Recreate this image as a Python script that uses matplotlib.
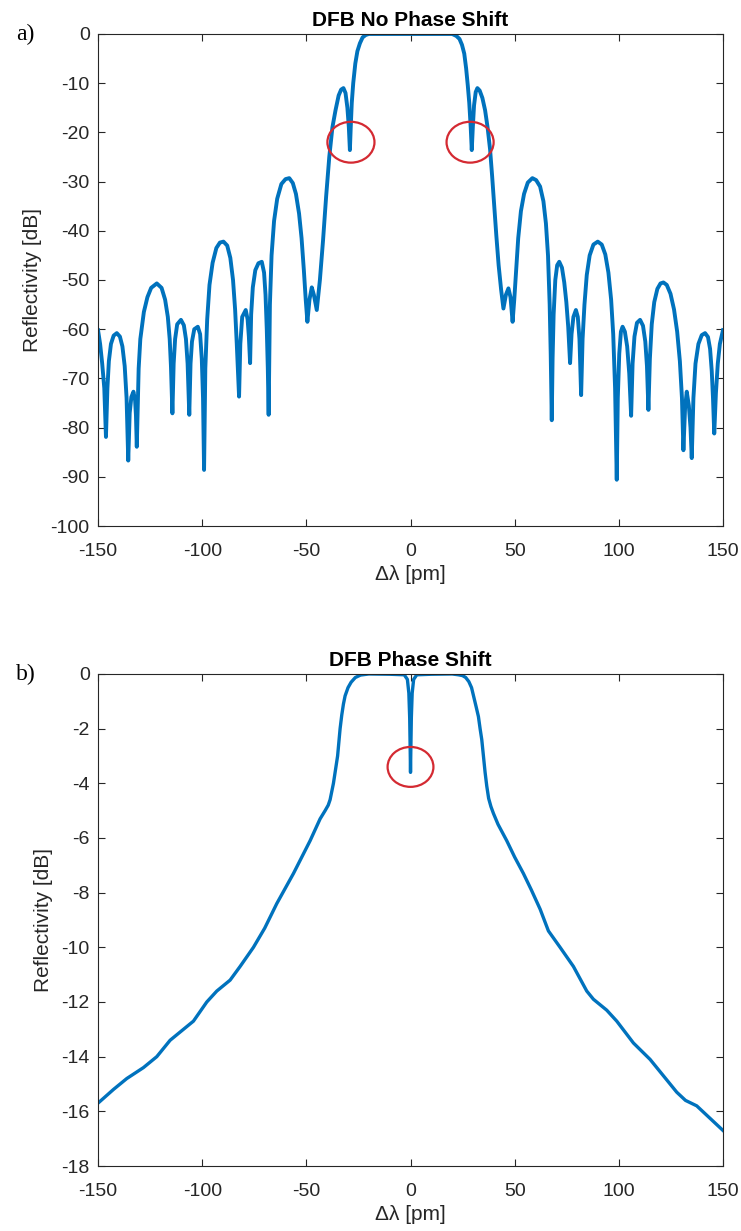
import matplotlib.pyplot as plt
from matplotlib.patches import Ellipse
import numpy as np

# a) DFB without phase shift, traced points (delta lambda [pm], reflectivity [dB])
x_nops = [-150, -149, -148, -147, -146.2,
          -145.5, -144.8, -143.8, -142.5, -141, -139.5, -138.3, -137.2, -136.3, -135.5,
          -134.8, -134, -133, -132.2, -131.8, -131.4,
          -130.5, -129.7, -128, -126.3, -124.5, -121.8, -119.5, -117.8, -116.5, -115.6, -115, -114.3,
          -113.7, -113, -112, -110.2, -108.8, -107.8, -107, -106.2,
          -105.6, -104.9, -103.8, -102.1, -101, -100.2, -99.6, -99.1,
          -98.5, -97.6, -96.5, -95, -93.2, -91.5, -89.8, -88, -86.5, -85.2, -84.2, -83.4, -82.3,
          -81.7, -80.8, -79.1, -78.2, -77.6, -77,
          -76.5, -75.7, -74.5, -73, -71.4, -70.3, -69.6, -69, -68.5, -68.1,
          -67.5, -66.7, -65.5, -64, -62, -60, -58.2, -56.5, -55, -53.5, -52.3, -51.2, -50.3, -49.5,
          -48.5, -47.4, -46.4, -45,
          -43.5, -42, -40.5, -39, -37.5, -36, -34.5, -33.3, -32.2, -31.2, -30.3, -29.6, -29.1,
          -28.7, -28.2, -27.5, -26.5, -25.5, -24.3, -23, -21.5, -20, -10, 0, 10, 20,
          20.5, 22, 23.5, 24.7, 25.8, 26.7, 27.5, 28.2, 28.9, 29.4,
          29.9, 30.5, 31.3, 32.1, 33.2, 34.5, 35.8, 37, 38.2, 39.2, 40.2, 41.2, 42.3, 43.5, 44.6,
          45.8, 47, 48, 49,
          49.8, 50.7, 51.7, 53, 54.5, 56.3, 58.5, 60.3, 62.2, 63.8, 65, 66, 66.8, 67.3, 67.8,
          68.2, 68.7, 69.5, 70.4, 71.4, 72.7, 73.8, 74.8, 75.7, 76.6,
          77.3, 78.2, 79.4, 80.3, 81.1, 81.9,
          82.6, 83.5, 84.6, 86, 87.8, 89.9, 91.8, 93.5, 95, 96.3, 97.3, 98.2, 99,
          99.5, 100.2, 101, 101.8, 102.9, 104, 105, 105.9,
          106.6, 107.5, 108.7, 110.2, 111.6, 112.7, 113.5, 114.2,
          114.9, 115.8, 117, 118.5, 120, 121.4, 123, 124.8, 126.5, 128, 129.3, 130.3, 131,
          131.8, 132.6, 133.6, 134.4, 135,
          135.8, 136.8, 138.2, 139.8, 141.4, 142.8, 143.8, 144.6, 145.2, 145.8,
          146.6, 147.5, 148.5, 150]
r_nops = [-60.2, -63, -67, -72, -81.9,
          -72, -66.5, -63, -61.3, -60.8, -61.5, -63.5, -67.5, -74, -86.7,
          -77, -73.8, -72.7, -74.5, -77.5, -83.9,
          -68, -62, -56.5, -53.5, -51.6, -50.7, -51.6, -54, -57.5, -62, -67.5, -77.1,
          -67, -62, -59, -58.1, -59.2, -62, -67, -77.4,
          -67, -62.5, -60, -59.5, -61, -66, -74, -88.6,
          -68, -58, -51, -46.5, -43.5, -42.4, -42.2, -43, -45.5, -50, -56, -63, -73.7,
          -63, -57.5, -56.1, -58, -61.5, -66.9,
          -57, -51.5, -48, -46.6, -46.3, -48.5, -53, -60, -68, -77.4,
          -55, -45, -38, -33.5, -30.5, -29.5, -29.3, -30.3, -32.5, -36.5, -41.5, -48, -54, -58.5,
          -54, -51.5, -53, -56.1,
          -50, -42, -33, -25, -19, -15.5, -12.5, -11.3, -11, -12, -15, -19, -23.6,
          -19, -14, -10, -6, -3.5, -1.9, -0.7, -0.2, 0, 0, 0, 0, 0,
          -0.1, -0.4, -1, -2.2, -4, -7, -10.5, -14, -19, -23.6,
          -19, -14.5, -11.8, -11, -11.5, -13, -15.5, -19, -23.5, -29, -35, -41, -47, -52, -55.8,
          -53, -51.7, -53.5, -58.5,
          -54, -48, -41.5, -36, -32.5, -30.2, -29.3, -29.7, -31, -34, -38.5, -45, -55, -65, -78.5,
          -66, -57, -50, -47, -46.3, -47.5, -50.5, -54.5, -59.5, -66.9,
          -61, -57.5, -56.1, -57.5, -62, -73.4,
          -62, -55, -49, -45, -42.8, -42.2, -42.8, -44.8, -48.5, -54, -61, -72, -90.6,
          -74, -65, -60.5, -59.5, -60.5, -63.5, -69, -77.6,
          -67, -61.5, -58.7, -58.1, -59.3, -62.5, -67.5, -76.4,
          -66, -59, -54.5, -51.8, -50.7, -50.5, -51, -52.8, -56, -60.5, -66.5, -74, -84.6,
          -76, -72.7, -75.5, -80, -86.2,
          -74, -67, -63, -61.2, -60.8, -61.6, -64, -68.5, -74, -81.2,
          -73, -67, -63, -60.2]

# b) DFB with phase shift
x_ps = [-150, -142.6, -136.2, -128.2, -121.8, -115.4, -109, -104.2, -97.8, -93, -86.6,
        -81.8, -75.4, -70, -64.2, -56.2, -48.2, -43.4, -41, -39.5, -38.6, -37, -36, -35,
        -34.4, -33.8, -33, -32.2, -31.4, -30, -28.5, -26.5, -24, -20, -10, -3,
        -1.5, -0.8, -0.4, -0.15, 0, 0.15, 0.4, 0.8, 1.5,
        3, 10, 20, 23, 25, 26.5, 28, 29.3, 30.4, 31.5, 32.6, 33.4, 34.2, 35, 35.8, 36.6,
        37.5, 38.6, 39.8, 42, 46.2, 50, 54.2, 58, 62.2, 66.2,
        71.8, 78.2, 84.6, 87.8, 94.2, 99, 103, 107, 111, 115, 121.4, 127.8, 132, 137.4, 143, 150]
r_ps = [-15.7, -15.2, -14.8, -14.4, -14.0, -13.4, -13.0, -12.7, -12.0, -11.6, -11.2,
        -10.7, -10.0, -9.3, -8.4, -7.3, -6.1, -5.3, -5.0, -4.8, -4.6, -4.0, -3.5, -3.0,
        -2.5, -2.0, -1.5, -1.1, -0.8, -0.5, -0.3, -0.13, -0.04, 0, -0.01, -0.03,
        -0.2, -0.7, -1.6, -2.8, -3.6, -2.8, -1.6, -0.7, -0.2,
        -0.03, -0.01, 0, -0.03, -0.06, -0.13, -0.28, -0.5, -0.85, -1.2, -1.56, -2.0, -2.4, -3.0, -3.6, -4.1,
        -4.55, -4.85, -5.1, -5.5, -6.1, -6.7, -7.3, -7.9, -8.6, -9.4,
        -10.0, -10.7, -11.6, -11.9, -12.3, -12.7, -13.1, -13.5, -13.8, -14.1, -14.7, -15.3, -15.6, -15.8, -16.2, -16.7]

# marked features (centre x, centre y, width, height)
marks_a = [(-28.6, -22, 22.6, 8.3), (28.6, -22, 22.6, 8.3)]
marks_b = [(0, -3.4, 22, 1.46)]

blue = '#0072BD'
dark = '#262626'
plt.rcParams['font.family'] = ['Liberation Sans', 'DejaVu Sans']
plt.rcParams['axes.unicode_minus'] = False

fig = plt.figure(figsize=(7.41, 12.31), dpi=100)
ax1 = fig.add_axes([0.1323, 0.5727, 0.8434, 0.3997])
ax2 = fig.add_axes([0.1323, 0.0528, 0.8434, 0.3997])

panels = [
    (ax1, x_nops, r_nops, 'DFB No Phase Shift', (-100, 0), np.arange(-100, 1, 10), marks_a, 2.8, 'a)'),
    (ax2, x_ps, r_ps, 'DFB Phase Shift', (-18, 0), np.arange(-18, 1, 2), marks_b, 2.4, 'b)'),
]

for ax, x, r, title, ylim, yticks, marks, lw, tag in panels:
    ax.plot(x, r, color=blue, lw=lw, solid_joinstyle='round')
    for cx, cy, w, h in marks:
        ax.add_patch(Ellipse((cx, cy), w, h, fill=False, edgecolor='#d42a32', lw=1.6, zorder=3))
    ax.set_xlim(-150, 150)
    ax.set_ylim(*ylim)
    ax.set_xticks(np.arange(-150, 151, 50))
    ax.set_yticks(yticks)
    ax.tick_params(direction='in', top=True, right=True, length=5, width=0.8,
                   labelsize=14, colors=dark, pad=6)
    ax.tick_params(axis='x', pad=12)
    for s in ax.spines.values():
        s.set_color(dark)
        s.set_linewidth(0.8)
    ax.set_title(title, fontsize=15, fontweight='bold', pad=6)
    ax.set_ylabel('Reflectivity [dB]', fontsize=15, color=dark, labelpad=6)
    ax.set_xlabel('Δλ [pm]', fontsize=15, color=dark, labelpad=4)
    ax.text(-0.116, 1.0, tag, transform=ax.transAxes, fontsize=17,
            family='Liberation Serif', ha='center', va='center')

fig.savefig('out.png', dpi=100)
